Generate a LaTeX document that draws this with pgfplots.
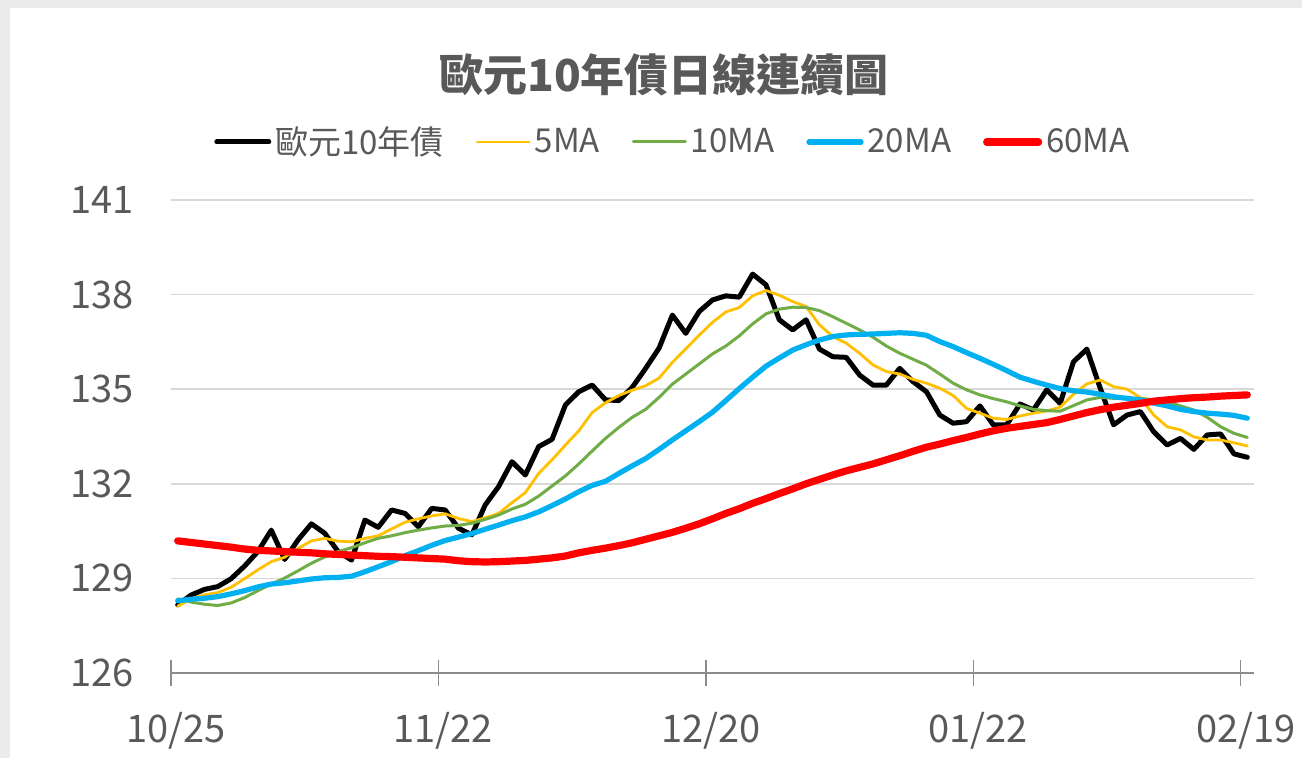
\documentclass[border=0pt]{standalone}
\usepackage{fontspec}
\setmainfont{Noto Sans CJK TC}
\usepackage{pgfplots}
\usepackage{pgfplotstable}
\pgfplotsset{compat=1.18}
\definecolor{txtgray}{HTML}{595959}
\definecolor{gridgray}{HTML}{D9D9D9}
\definecolor{axgray}{HTML}{8C8C8C}
\definecolor{bggray}{HTML}{EBEBEB}
\definecolor{ma5}{HTML}{FFC000}
\definecolor{ma10}{HTML}{70AD47}
\definecolor{ma20}{HTML}{00B0F0}
\definecolor{ma60}{HTML}{FF0000}
\pgfplotstableread{
i close ma5 ma10 ma20 ma60
0 128.16 128.12 128.35 128.29 130.19
1 128.47 128.35 128.25 128.34 130.14
2 128.65 128.48 128.18 128.37 130.09
3 128.74 128.55 128.14 128.42 130.04
4 128.99 128.72 128.22 128.51 129.99
5 129.39 128.99 128.39 128.61 129.93
6 129.85 129.27 128.61 128.73 129.89
7 130.53 129.53 128.82 128.82 129.87
8 129.60 129.67 129.01 128.86 129.85
9 130.22 129.95 129.24 128.92 129.83
10 130.73 130.19 129.48 128.98 129.81
11 130.43 130.27 129.68 129.02 129.78
12 129.85 130.18 129.85 129.03 129.76
13 129.58 130.16 129.97 129.07 129.74
14 130.85 130.27 130.13 129.21 129.72
15 130.62 130.35 130.27 129.37 129.70
16 131.17 130.57 130.35 129.53 129.69
17 131.06 130.78 130.45 129.72 129.67
18 130.64 130.89 130.53 129.88 129.65
19 131.22 130.98 130.60 130.05 129.63
20 131.17 131.05 130.66 130.20 129.61
21 130.59 130.90 130.68 130.31 129.56
22 130.38 130.80 130.75 130.42 129.53
23 131.33 130.92 130.87 130.56 129.52
24 131.91 131.06 131.01 130.69 129.53
25 132.70 131.40 131.20 130.83 129.55
26 132.28 131.72 131.35 130.95 129.57
27 133.18 132.33 131.61 131.11 129.61
28 133.41 132.76 131.93 131.31 129.65
29 134.50 133.23 132.25 131.52 129.71
30 134.92 133.68 132.63 131.75 129.81
31 135.13 134.26 133.04 131.95 129.89
32 134.66 134.57 133.44 132.08 129.96
33 134.64 134.80 133.79 132.33 130.04
34 135.06 134.97 134.11 132.57 130.13
35 135.66 135.11 134.36 132.80 130.24
36 136.30 135.35 134.74 133.09 130.35
37 137.35 135.85 135.16 133.39 130.46
38 136.77 136.28 135.48 133.68 130.59
39 137.46 136.71 135.80 133.97 130.73
40 137.83 137.12 136.12 134.27 130.89
41 137.96 137.45 136.37 134.64 131.06
42 137.92 137.59 136.69 135.02 131.21
43 138.65 137.96 137.07 135.38 131.38
44 138.31 138.13 137.39 135.73 131.53
45 137.20 137.98 137.54 135.99 131.69
46 136.88 137.78 137.60 136.24 131.84
47 137.20 137.62 137.59 136.41 132.00
48 136.27 137.04 137.49 136.56 132.14
49 136.03 136.67 137.30 136.67 132.28
50 136.01 136.46 137.09 136.72 132.41
51 135.45 136.14 136.88 136.74 132.52
52 135.13 135.77 136.65 136.75 132.63
53 135.13 135.56 136.37 136.77 132.76
54 135.66 135.48 136.14 136.79 132.89
55 135.24 135.31 135.95 136.77 133.03
56 134.92 135.19 135.76 136.71 133.16
57 134.18 135.03 135.48 136.51 133.26
58 133.92 134.80 135.19 136.35 133.37
59 133.97 134.39 134.98 136.16 133.47
60 134.47 134.24 134.82 135.98 133.58
61 133.87 134.08 134.70 135.79 133.68
62 133.87 134.04 134.60 135.59 133.76
63 134.53 134.15 134.47 135.38 133.82
64 134.34 134.24 134.36 135.25 133.88
65 134.98 134.31 134.32 135.13 133.94
66 134.55 134.43 134.30 135.02 134.04
67 135.87 134.84 134.48 134.95 134.15
68 136.27 135.17 134.66 134.91 134.26
69 135.03 135.29 134.74 134.84 134.35
70 133.87 135.08 134.71 134.76 134.43
71 134.18 135.00 134.71 134.71 134.49
72 134.29 134.73 134.71 134.66 134.55
73 133.65 134.18 134.66 134.56 134.62
74 133.23 133.81 134.60 134.47 134.66
75 133.44 133.71 134.47 134.36 134.70
76 133.09 133.49 134.34 134.29 134.73
77 133.55 133.39 134.11 134.24 134.75
78 133.58 133.39 133.81 134.21 134.78
79 132.95 133.30 133.60 134.17 134.80
80 132.84 133.20 133.47 134.08 134.82
}\datatable
\begin{document}
\begin{tikzpicture}[x=1pt,y=1pt]
\fill[bggray] (0,0) rectangle (651,379);
\fill[white] (5,0) rectangle (651,375);
\node[font=\bfseries\fontsize{22}{26}\selectfont, text=txtgray] at (332,341.5) {歐元10年債日線連續圖};
\begin{axis}[
  at={(85.5pt,42.5pt)}, anchor=south west,
  scale only axis, width=541.5pt, height=236.5pt,
  xmin=-0.5, xmax=80.5, ymin=126, ymax=141,
  ytick={126,129,132,135,138,141},
  xtick={-0.5,19.5,39.5,59.5,79.5},
  xticklabels={10/25,11/22,12/20,01/22,02/19},
  axis x line*=bottom, axis y line*=left,
  y axis line style={draw=none},
  x axis line style={draw=axgray, line width=1pt},
  ytick style={draw=none},
  xtick style={draw=axgray, line width=0.7pt},
  major tick length=13pt,
  xtick align=center,
  ymajorgrids,
  major grid style={draw=gridgray, line width=0.8pt},
  ticklabel style={font=\fontsize{19}{22}\selectfont, text=txtgray},
  /pgf/number format/assume math mode=true,
  yticklabel style={anchor=east, xshift=-15pt},
  xticklabel style={anchor=center, yshift=-22.5pt, xshift=2.5pt},
  legend columns=5,
  legend style={at={(0.4645,1.1226)}, anchor=center, draw=none, fill=none,
    font=\fontsize{16.5}{20}\selectfont, text=txtgray,
    /tikz/every even column/.append style={column sep=14pt}},
  legend image code/.code={\draw[#1] (0pt,0pt) -- (26pt,0pt);},
  legend cell align=left,
  every axis plot/.append style={line join=round, line cap=round},
]
\addplot[black, line width=2.5pt] table[x=i, y=close] {\datatable};
\addlegendentry{歐元10年債}
\addplot[ma5, line width=1.4pt] table[x=i, y=ma5] {\datatable};
\addlegendentry{5MA}
\addplot[ma10, line width=1.5pt] table[x=i, y=ma10] {\datatable};
\addlegendentry{10MA}
\addplot[ma20, line width=2.6pt] table[x=i, y=ma20] {\datatable};
\addlegendentry{20MA}
\addplot[ma60, line width=3.6pt] table[x=i, y=ma60] {\datatable};
\addlegendentry{60MA}
\end{axis}
\end{tikzpicture}
\end{document}
